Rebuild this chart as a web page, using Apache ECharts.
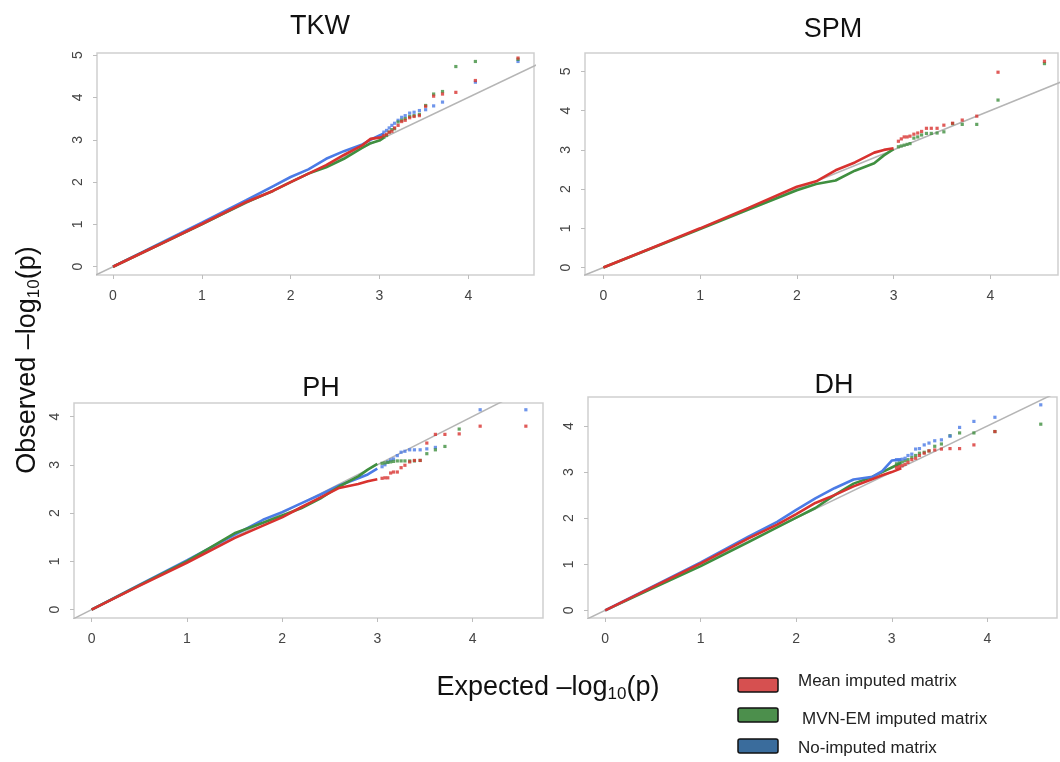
<!DOCTYPE html>
<html>
<head>
<meta charset="utf-8">
<script src="https://cdn.jsdelivr.net/npm/echarts@6/dist/echarts.min.js"></script>
<style>html,body{margin:0;padding:0;background:#fff;}#c{width:1060px;height:762px;}</style>
</head>
<body>
<div id="c"></div>
<script>
// ---- data ----
const panelNames = ['TKW', 'SPM', 'PH', 'DH'];
const seriesNames = ['No-imputed matrix', 'MVN-EM imputed matrix', 'Mean imputed matrix'];
const tickValuesX = [0, 1, 2, 3, 4];
const tickValuesY5 = [0, 1, 2, 3, 4, 5];
const tickValuesY4 = [0, 1, 2, 3, 4];

// expected -log10(p) of the isolated tail points
const tailX = [4.56, 4.08, 3.86, 3.71, 3.61, 3.52, 3.45, 3.39, 3.34, 3.29, 3.25, 3.21, 3.17, 3.14, 3.11, 3.08, 3.05];

// TKW
const tkwX     = [0, 0.5, 1.0, 1.5, 1.8, 2.0, 2.2, 2.4, 2.6, 2.8, 2.9, 3.0, 3.05];
const tkwRed   = [0, 0.5, 1.01, 1.53, 1.79, 2.0, 2.2, 2.4, 2.64, 2.86, 3.02, 3.05, 3.08];
const tkwGreen = [0, 0.5, 1.0, 1.52, 1.79, 2.0, 2.2, 2.35, 2.55, 2.8, 2.92, 2.98, 3.05];
const tkwBlue  = [0, 0.52, 1.04, 1.57, 1.9, 2.12, 2.3, 2.55, 2.73, 2.88, 3.0, 3.1, 3.15];
const tkwTailRed   = [4.93, 4.40, 4.12, 4.08, 4.03, 3.79, 3.57, 3.55, 3.52, 3.46, 3.43, 3.34, 3.28, 3.20, 3.18, 3.13, 3.10];
const tkwTailGreen = [4.90, 4.85, 4.73, 4.14, 4.08, 3.81, 3.60, 3.57, 3.55, 3.50, 3.46, 3.42, 3.26, 3.24, 3.18, 3.10, 3.06];
const tkwTailBlue  = [4.85, 4.36, null, 3.89, 3.80, 3.71, 3.69, 3.65, 3.63, 3.57, 3.53, 3.46, 3.39, 3.34, 3.28, 3.22, 3.18];

// SPM
const spmX     = [0, 0.5, 1.0, 1.5, 2.0, 2.2, 2.4, 2.6, 2.8, 2.9, 3.0];
const spmRed   = [0, 0.5, 1.0, 1.52, 2.06, 2.2, 2.48, 2.68, 2.93, 3.0, 3.04];
const spmGreen = [0, 0.49, 0.98, 1.48, 1.97, 2.13, 2.22, 2.47, 2.66, 2.86, 3.02];
const spmTailRed   = [5.26, 4.98, 3.86, 3.76, 3.68, 3.63, 3.55, 3.55, 3.55, 3.47, 3.43, 3.40, 3.35, 3.33, 3.33, 3.28, 3.22];
const spmTailGreen = [5.20, 4.27, 3.65, 3.65, 3.67, 3.46, 3.43, 3.42, 3.42, 3.38, 3.33, 3.30, 3.16, 3.14, 3.12, 3.10, 3.08];

// PH
const phX     = [0, 0.5, 1.0, 1.5, 1.8, 2.0, 2.2, 2.4, 2.6, 2.8, 2.9, 3.0];
const phRed   = [0, 0.49, 0.97, 1.48, 1.74, 1.91, 2.12, 2.32, 2.52, 2.6, 2.66, 2.7];
const phGreen = [0, 0.5, 1.0, 1.58, 1.8, 1.95, 2.1, 2.3, 2.55, 2.76, 2.9, 3.02];
const phBlue  = [0, 0.51, 1.02, 1.55, 1.86, 2.02, 2.2, 2.38, 2.57, 2.72, 2.8, 2.92];
const phTailRed   = [3.80, 3.80, 3.64, 3.63, 3.63, 3.45, 3.09, 3.09, 3.06, 2.99, 2.94, 2.85, 2.85, 2.83, 2.73, 2.73, 2.72];
const phTailGreen = [null, null, 3.74, 3.38, 3.31, 3.23, 3.09, 3.08, 3.08, 3.08, 3.08, 3.08, 3.07, 3.06, 3.05, 3.04, 3.03];
const phTailBlue  = [4.14, 4.14, null, null, 3.36, 3.33, 3.31, 3.31, 3.31, 3.28, 3.26, 3.19, 3.12, 3.10, 3.06, 3.00, 2.96];

// DH
const dhX     = [0, 0.5, 1.0, 1.5, 1.8, 2.0, 2.2, 2.4, 2.6, 2.8, 2.9, 3.0, 3.1];
const dhRed   = [0, 0.51, 1.02, 1.56, 1.86, 2.09, 2.33, 2.5, 2.69, 2.85, 2.93, 3.0, 3.08];
const dhGreen = [0, 0.48, 0.96, 1.48, 1.8, 2.01, 2.22, 2.5, 2.75, 2.9, 3.0, 3.1, 3.2];
const dhBlue  = [0, 0.52, 1.04, 1.6, 1.92, 2.18, 2.43, 2.65, 2.84, 2.9, 3.02, 3.25, 3.27];
const dhTailRed   = [null, 3.88, 3.59, 3.51, 3.51, 3.50, 3.48, 3.46, 3.41, 3.36, 3.30, 3.27, 3.21, 3.17, 3.14, 3.12, 3.10];
const dhTailGreen = [4.04, 3.88, 3.85, 3.85, 3.79, 3.61, 3.56, 3.46, 3.43, 3.41, 3.36, 3.32, 3.27, 3.25, 3.22, 3.20, 3.18];
const dhTailBlue  = [4.46, 4.19, 4.10, 3.97, 3.78, 3.70, 3.68, 3.63, 3.59, 3.51, 3.50, 3.39, 3.36, 3.30, 3.28, 3.27, 3.27];

// ---- styling / layout ----
const COL = { red: '#d8322f', green: '#3f8f3f', blue: '#4b7be6' };
const LEG = { red: '#d65050', green: '#4c8f4c', blue: '#3a6c9c' };
const FONT = 'Liberation Sans, Arial, sans-serif';

const panels = [
  { grid: { left: 97, top: 53, width: 437, height: 222 }, x: [-0.18, 4.74], y: [-0.196, 5.05], yt: tickValuesY5,
    lines: [[tkwX, tkwBlue, 'blue'], [tkwX, tkwGreen, 'green'], [tkwX, tkwRed, 'red']],
    tails: [[tkwTailBlue, 'blue'], [tkwTailGreen, 'green'], [tkwTailRed, 'red']] },
  { grid: { left: 585, top: 53, width: 473, height: 222 }, x: [-0.19, 4.70], y: [-0.19, 5.47], yt: tickValuesY5,
    lines: [[spmX, spmGreen, 'green'], [spmX, spmRed, 'red']],
    tails: [[spmTailGreen, 'green'], [spmTailRed, 'red']] },
  { grid: { left: 74, top: 403, width: 469, height: 215 }, x: [-0.185, 4.74], y: [-0.174, 4.28], yt: tickValuesY4,
    lines: [[phX, phBlue, 'blue'], [phX, phGreen, 'green'], [phX, phRed, 'red']],
    tails: [[phTailBlue, 'blue'], [phTailGreen, 'green'], [phTailRed, 'red']] },
  { grid: { left: 588, top: 397, width: 469, height: 221 }, x: [-0.18, 4.73], y: [-0.167, 4.63], yt: tickValuesY4,
    lines: [[dhX, dhGreen, 'green'], [dhX, dhBlue, 'blue'], [dhX, dhRed, 'red']],
    tails: [[dhTailGreen, 'green'], [dhTailBlue, 'blue'], [dhTailRed, 'red']] }
];

const grids = [], xAxes = [], yAxes = [], series = [];
panels.forEach((p, i) => {
  grids.push(Object.assign({ show: true, borderColor: '#cfcfcf', borderWidth: 1.5, backgroundColor: '#fff' }, p.grid));
  xAxes.push({
    type: 'value', gridIndex: i, min: p.x[0], max: p.x[1],
    axisLine: { show: false, onZero: false }, splitLine: { show: false },
    axisTick: { show: true, customValues: tickValuesX, length: 4, lineStyle: { color: '#bdbdbd', width: 1 } },
    axisLabel: { customValues: tickValuesX, margin: 14, color: '#444', fontSize: 14, fontFamily: FONT }
  });
  yAxes.push({
    type: 'value', gridIndex: i, min: p.y[0], max: p.y[1],
    axisLine: { show: false, onZero: false }, splitLine: { show: false },
    axisTick: { show: true, customValues: p.yt, length: 4, lineStyle: { color: '#bdbdbd', width: 1 } },
    axisLabel: { customValues: p.yt, rotate: 90, margin: 12, color: '#444', fontSize: 14, fontFamily: FONT }
  });
  // reference y = x line
  series.push({
    type: 'line', xAxisIndex: i, yAxisIndex: i, data: [[-1, -1], [6, 6]], clip: true,
    showSymbol: false, silent: true, lineStyle: { color: '#b5b5b5', width: 1.5 }, z: 1
  });
  p.lines.forEach(([xs, ys, c]) => {
    series.push({
      type: 'line', xAxisIndex: i, yAxisIndex: i, showSymbol: false, clip: true,
      data: xs.map((x, k) => [x, ys[k]]),
      lineStyle: { color: COL[c], width: 2.6 }, z: 3
    });
  });
  p.tails.forEach(([ys, c]) => {
    series.push({
      type: 'scatter', xAxisIndex: i, yAxisIndex: i, symbol: 'rect', symbolSize: 3.2,
      data: tailX.map((x, k) => [x, ys[k]]).filter(d => d[1] !== null),
      itemStyle: { color: COL[c] }, z: 4
    });
  });
});

const titleStyle = { fontSize: 27, fontWeight: 'normal', color: '#111', fontFamily: FONT };
const option = {
  animation: false,
  backgroundColor: '#fff',
  grid: grids, xAxis: xAxes, yAxis: yAxes, series: series,
  title: [
    { text: panelNames[0], left: 315, top: 8, textAlign: 'center', textStyle: titleStyle },
    { text: panelNames[1], left: 828, top: 11, textAlign: 'center', textStyle: titleStyle },
    { text: panelNames[2], left: 316, top: 370, textAlign: 'center', textStyle: titleStyle },
    { text: panelNames[3], left: 829, top: 367, textAlign: 'center', textStyle: titleStyle }
  ],
  graphic: [
    { type: 'text', x: 548, y: 688, style: {
        text: '{a|Expected –log}{s|10}{a|(p)}', align: 'center', verticalAlign: 'middle',
        rich: { a: { fontSize: 27, fontFamily: FONT, fill: '#111' },
                s: { fontSize: 17, fontFamily: FONT, fill: '#111', padding: [13, 0, 0, 0] } } } },
    { type: 'text', x: 28, y: 360, rotation: Math.PI / 2, style: {
        text: '{a|Observed –log}{s|10}{a|(p)}', align: 'center', verticalAlign: 'middle',
        rich: { a: { fontSize: 27, fontFamily: FONT, fill: '#111' },
                s: { fontSize: 17, fontFamily: FONT, fill: '#111', padding: [13, 0, 0, 0] } } } },
    { type: 'rect', shape: { x: 738, y: 678, width: 40, height: 14, r: 2 }, style: { fill: LEG.red, stroke: '#111', lineWidth: 1.5 } },
    { type: 'rect', shape: { x: 738, y: 708, width: 40, height: 14, r: 2 }, style: { fill: LEG.green, stroke: '#111', lineWidth: 1.5 } },
    { type: 'rect', shape: { x: 738, y: 739, width: 40, height: 14, r: 2 }, style: { fill: LEG.blue, stroke: '#111', lineWidth: 1.5 } },
    { type: 'text', x: 798, y: 681, style: { text: seriesNames[2], fontSize: 17, fontFamily: FONT, fill: '#222', verticalAlign: 'middle' } },
    { type: 'text', x: 802, y: 719, style: { text: seriesNames[1], fontSize: 17, fontFamily: FONT, fill: '#222', verticalAlign: 'middle' } },
    { type: 'text', x: 798, y: 748, style: { text: seriesNames[0], fontSize: 17, fontFamily: FONT, fill: '#222', verticalAlign: 'middle' } }
  ]
};
const chart = echarts.init(document.getElementById('c'), null, { renderer: 'canvas' });
chart.setOption(option);
</script>
</body>
</html>
